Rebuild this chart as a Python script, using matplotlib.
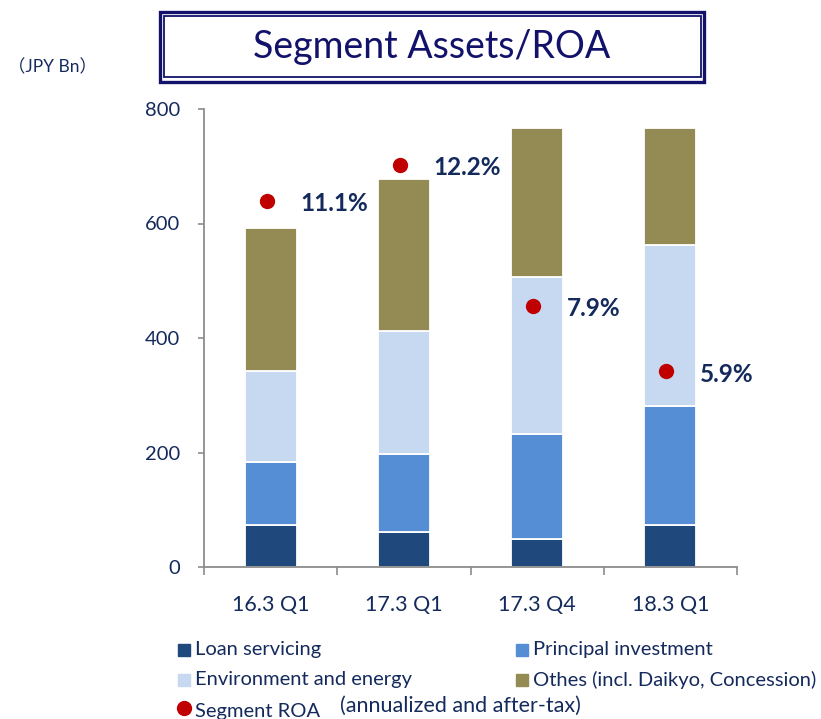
import matplotlib
matplotlib.use("Agg")
import matplotlib.pyplot as plt
from matplotlib.patches import Rectangle
from matplotlib.lines import Line2D
import numpy as np

plt.rcParams["font.family"] = ["Lato", "Noto Sans CJK JP", "DejaVu Sans"]

# data (JPY Bn)
periods = ["16.3 Q1", "17.3 Q1", "17.3 Q4", "18.3 Q1"]
loan_servicing = [73, 61, 49, 73]
principal_investment = [111, 137, 184, 209]
environment_energy = [159, 215, 274, 281]
others = [249, 264, 259, 203]
segment_roa = [11.1, 12.2, 7.9, 5.9]

series_names = ["Loan servicing", "Principal investment",
                "Environment and energy", "Othes (incl. Daikyo, Concession)"]
series_colors = ["#1F497D", "#558ED5", "#C6D9F1", "#948A54"]
text_color = "#142A5C"
title_color = "#12126B"
roa_color = "#C00000"

W, H = 821, 719
fig = plt.figure(figsize=(W / 100, H / 100), dpi=100)
ax = fig.add_axes([204 / W, 1 - 567 / H, (737 - 204) / W, (567 - 109) / H])

x = np.arange(len(periods))
bottom = np.zeros(len(periods))
for vals, color in zip([loan_servicing, principal_investment, environment_energy, others],
                       series_colors):
    ax.bar(x, vals, width=0.39, bottom=bottom, color=color,
           edgecolor="white", linewidth=1.3, zorder=2)
    bottom += np.array(vals)

ax.set_xlim(-0.5, len(periods) - 0.5)
ax.set_ylim(0, 800)
ax.set_yticks([0, 200, 400, 600, 800])
ax.set_xticks(x)
ax.set_xticklabels(periods)
ax.set_xticks(np.arange(-0.5, len(periods)), minor=True)
ax.tick_params(axis="x", which="major", length=0, pad=20, labelsize=15.5,
               labelcolor=text_color)
ax.tick_params(axis="x", which="minor", length=6, width=1.2, color="#8C8C8C",
               direction="out")
ax.tick_params(axis="y", length=4, width=1.2, color="#8C8C8C", pad=13,
               labelsize=14.5, labelcolor=text_color)
for side in ["top", "right"]:
    ax.spines[side].set_visible(False)
for side in ["left", "bottom"]:
    ax.spines[side].set_color("#8C8C8C")
    ax.spines[side].set_linewidth(1.3)

# ROA on a hidden secondary scale
ax2 = ax.twinx()
ax2.set_ylim(-0.06, 13.9)
ax2.axis("off")
ax2.plot(x - 0.03, segment_roa, "o", color=roa_color, markersize=10,
         linestyle="none", zorder=3)
for xi, v in zip(x, segment_roa):
    ax2.annotate(f"{v}%", xy=(xi - 0.03, v), xytext=(24, -2),
                 textcoords="offset points", ha="left", va="center",
                 fontsize=17.5, fontweight="bold", color=text_color)

# title box with double border
fig.add_artist(Rectangle((159.6 / W, 1 - 81.7 / H), (704.3 - 159.6) / W,
                         (81.7 - 11.7) / H, transform=fig.transFigure,
                         fill=False, edgecolor=title_color, linewidth=2.4))
fig.add_artist(Rectangle((164.4 / W, 1 - 77 / H), (700.8 - 164.4) / W,
                         (77 - 16.4) / H, transform=fig.transFigure,
                         fill=False, edgecolor=title_color, linewidth=1.3))
fig.text(432 / W, 1 - 47 / H, "Segment Assets/ROA", ha="center", va="center",
         fontsize=27, color=title_color)

fig.text(8 / W, 1 - 67 / H, "（JPY Bn）", ha="left", va="center",
         fontsize=12.5, color=text_color)

# legend
legend_pos = [(178, 650), (516, 650), (178, 680), (516, 680)]
for (lx, ly), name, color in zip(legend_pos, series_names, series_colors):
    fig.add_artist(Line2D([(lx + 6) / W], [1 - ly / H], marker="s",
                          markersize=9, color=color, linestyle="none",
                          transform=fig.transFigure))
    fig.text((lx + 17) / W, 1 - ly / H, name, ha="left", va="center",
             fontsize=14.5, color=text_color)
fig.add_artist(Line2D([184 / W], [1 - 708 / H], marker="o", markersize=10,
                      color=roa_color, linestyle="none",
                      transform=fig.transFigure))
fig.text(195 / W, 1 - 711 / H, "Segment ROA", ha="left", va="center",
         fontsize=14.5, color=text_color)
fig.text(340 / W, 1 - 706 / H, "(annualized and after-tax)", ha="left",
         va="center", fontsize=15.5, color=text_color)

fig.savefig("out.png", dpi=100)
